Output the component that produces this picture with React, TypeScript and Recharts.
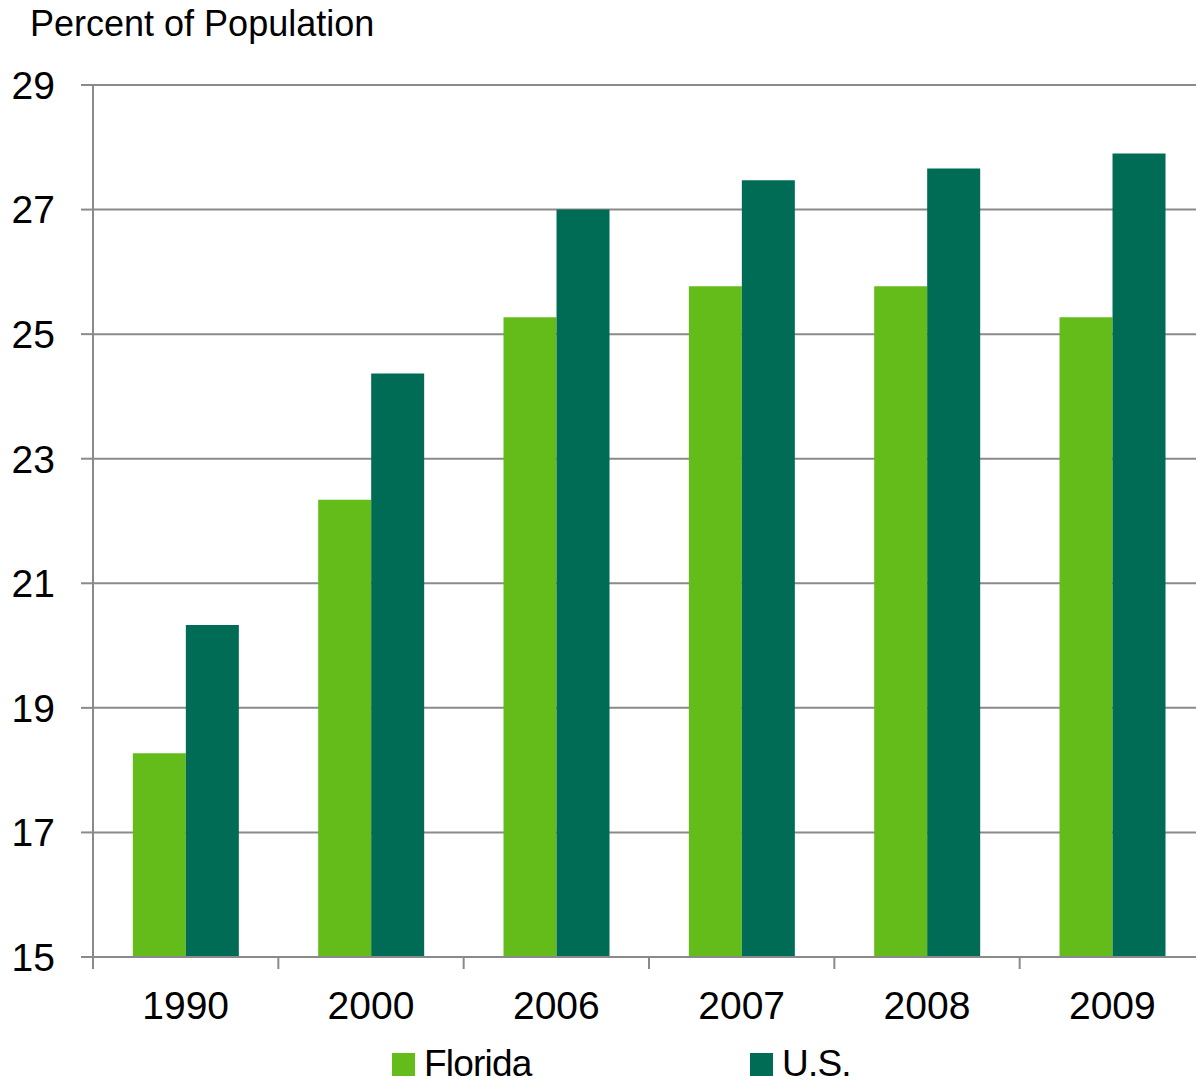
import { BarChart, Bar, XAxis, YAxis, CartesianGrid, Legend, Label } from 'recharts'

const YEARS = ['1990', '2000', '2006', '2007', '2008', '2009']
const FLORIDA = [18.27, 22.34, 25.27, 25.77, 25.77, 25.27]
const US = [20.33, 24.37, 27.0, 27.47, 27.66, 27.9]
const Y_TICKS = [15, 17, 19, 21, 23, 25, 27, 29]

const SERIES = [
  { key: 'florida', name: 'Florida', color: '#64bc1b' },
  { key: 'us', name: 'U.S.', color: '#006c55' },
]

const data = YEARS.map((year, i) => ({ year, florida: FLORIDA[i], us: US[i] }))

const W = 1208
const H = 1085
const MARGIN = { top: 85, right: 3, bottom: 0, left: 0 }
const Y_W = 93
const X_H = 128
const GRID = '#8a8a8a'
const FONT = '"Liberation Sans", Arial, sans-serif'
const band = (W - MARGIN.left - MARGIN.right - Y_W) / YEARS.length

function YearTick({ x, y, payload }: any) {
  return (
    <g>
      <line x1={x - band / 2} x2={x - band / 2} y1={y} y2={y + 12} stroke={GRID} strokeWidth={2} />
      <text x={x} y={y + 34} dy="0.71em" textAnchor="middle" fontSize={39} fill="#000" fontFamily={FONT}>
        {payload.value}
      </text>
    </g>
  )
}

function LegendBox({ payload }: any) {
  return (
    <div style={{ position: 'relative', height: 41, fontFamily: FONT }}>
      {(payload || []).map((p: any, i: number) => (
        <div
          key={p.value}
          style={{ position: 'absolute', left: 392 + i * 358, top: 0, display: 'flex', alignItems: 'flex-end' }}
        >
          <span style={{ display: 'inline-block', width: 23, height: 23, background: p.color, marginRight: 9, marginBottom: 8 }} />
          <span style={{ fontSize: 37, lineHeight: '41px', letterSpacing: -0.8, color: '#000' }}>{p.value}</span>
        </div>
      ))}
    </div>
  )
}

export default function App() {
  return (
    <div style={{ position: 'absolute', left: 0, top: 0, width: 1196, height: 1085, overflow: 'hidden', background: '#fff' }}>
      <BarChart width={W} height={H} data={data} margin={MARGIN} barCategoryGap="21.5%" barGap={0}>
        <CartesianGrid vertical={false} stroke={GRID} strokeWidth={2} />
        <YAxis
          width={Y_W}
          domain={[15, 29]}
          ticks={Y_TICKS}
          interval={0}
          allowDataOverflow
          axisLine={{ stroke: GRID, strokeWidth: 2 }}
          tickLine={{ stroke: GRID, strokeWidth: 2 }}
          tickSize={12}
          tickMargin={26}
          tick={{ fontSize: 39, fill: '#000', fontFamily: FONT }}
        >
          <Label
            content={() => (
              <text x={30} y={36} fontSize={36} fill="#000" fontFamily={FONT}>
                Percent of Population
              </text>
            )}
          />
        </YAxis>
        <XAxis
          dataKey="year"
          height={X_H}
          interval={0}
          axisLine={{ stroke: GRID, strokeWidth: 2 }}
          tickLine={false}
          tickSize={0}
          tickMargin={0}
          tick={<YearTick />}
        />
        <Legend
          verticalAlign="middle"
          align="center"
          wrapperStyle={{ top: 1043, left: 0, width: W }}
          content={<LegendBox />}
        />
        {SERIES.map((s) => (
          <Bar key={s.key} dataKey={s.key} name={s.name} fill={s.color} isAnimationActive={false} />
        ))}
      </BarChart>
    </div>
  )
}
